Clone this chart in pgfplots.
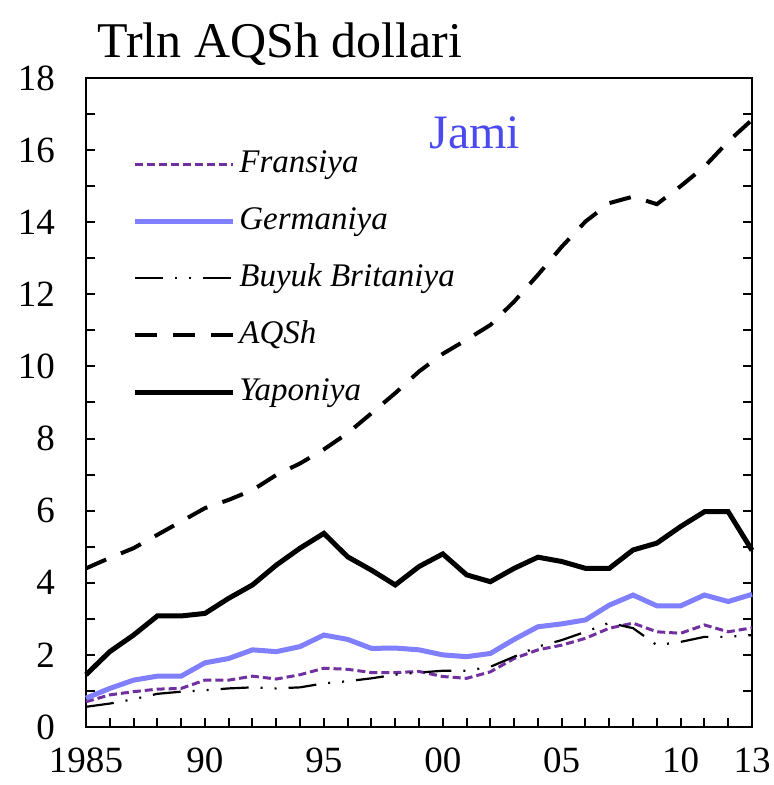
\documentclass[border=0pt]{standalone}
\usepackage{pgfplots}
\pgfplotsset{compat=1.18}
\usepackage{fontspec}
\setmainfont{Liberation Serif}
\definecolor{frc}{HTML}{7030A0}
\definecolor{gerc}{HTML}{8080FF}
\definecolor{jamic}{HTML}{4A4AF0}
\begin{document}
\begin{tikzpicture}
\begin{axis}[
  at={(0,0)}, anchor=south west,
  scale only axis, width=333pt, height=324.5pt,
  xmin=1985, xmax=2013, ymin=0, ymax=18,
  clip=false,
  axis line style={line width=1.2pt},
  xtick={1985,1990,1995,2000,2005,2010,2013},
  xticklabels={1985,90,95,00,05,10,13},
  minor xtick={1985,...,2013},
  ytick={0,2,...,18},
  minor ytick={1,3,...,17},
  xtick pos=bottom, ytick pos=both,
  tick align=inside,
  major tick length=4.5pt, minor tick length=4.5pt,
  tick style={line width=1pt, black},
  /pgf/number format/assume math mode=true,
  /pgf/number format/1000 sep={},
  ticklabel style={font=\fontsize{18.5}{22}\selectfont},
  yticklabel style={xshift=-12pt},
  xticklabel style={yshift=-7pt},
  legend cell align=left,
  legend image code/.code={\draw[#1] (0pt,0pt) -- (49pt,0pt);},
  legend style={draw=none, fill=none, at={(0.06,0.905)}, anchor=north west,
    font=\fontsize{16.5}{20}\selectfont\itshape, row sep=8.5pt,
    nodes={inner sep=2pt, text height=12pt, text depth=4pt}},
]
\addplot[frc, line width=1.5pt, dash pattern=on 4pt off 2pt] coordinates {
(1985,0.70)(1986,0.89)(1987,0.98)(1988,1.05)(1989,1.07)(1990,1.30)(1991,1.30)(1992,1.41)(1993,1.33)(1994,1.45)
(1995,1.63)(1996,1.60)(1997,1.51)(1998,1.51)(1999,1.54)(2000,1.40)(2001,1.35)(2002,1.53)(2003,1.90)(2004,2.14)
(2005,2.27)(2006,2.46)(2007,2.74)(2008,2.88)(2009,2.64)(2010,2.60)(2011,2.83)(2012,2.64)(2013,2.75)};
\addlegendentry{Fransiya}
\addplot[gerc, line width=2.5pt] coordinates {
(1985,0.80)(1986,1.07)(1987,1.30)(1988,1.41)(1989,1.41)(1990,1.78)(1991,1.90)(1992,2.14)(1993,2.09)(1994,2.23)
(1995,2.55)(1996,2.43)(1997,2.18)(1998,2.19)(1999,2.14)(2000,2.00)(2001,1.95)(2002,2.04)(2003,2.43)(2004,2.78)
(2005,2.86)(2006,2.97)(2007,3.38)(2008,3.66)(2009,3.36)(2010,3.36)(2011,3.66)(2012,3.48)(2013,3.68)};
\addlegendentry{Germaniya}
\addplot[black, line width=1.1pt, dash pattern=on 14pt off 6pt on 1pt off 6pt on 1pt off 6pt] coordinates {
(1985,0.56)(1986,0.65)(1987,0.77)(1988,0.92)(1989,0.98)(1990,1.02)(1991,1.07)(1992,1.10)(1993,1.07)(1994,1.10)
(1995,1.21)(1996,1.27)(1997,1.35)(1998,1.45)(1999,1.51)(2000,1.56)(2001,1.56)(2002,1.67)(2003,1.95)(2004,2.23)
(2005,2.41)(2006,2.64)(2007,2.89)(2008,2.74)(2009,2.27)(2010,2.36)(2011,2.50)(2012,2.50)(2013,2.55)};
\addlegendentry{Buyuk Britaniya}
\addplot[black, line width=2pt, dash pattern=on 11pt off 8pt] coordinates {
(1985,4.40)(1986,4.69)(1987,4.96)(1988,5.33)(1989,5.70)(1990,6.07)(1991,6.30)(1992,6.57)(1993,6.99)(1994,7.31)
(1995,7.70)(1996,8.15)(1997,8.70)(1998,9.26)(1999,9.86)(2000,10.35)(2001,10.74)(2002,11.15)(2003,11.80)(2004,12.54)
(2005,13.32)(2006,14.02)(2007,14.53)(2008,14.71)(2009,14.50)(2010,15.00)(2011,15.54)(2012,16.24)(2013,16.84)};
\addlegendentry{AQSh}
\addplot[black, line width=2.5pt] coordinates {
(1985,1.45)(1986,2.09)(1987,2.55)(1988,3.08)(1989,3.08)(1990,3.15)(1991,3.57)(1992,3.94)(1993,4.49)(1994,4.96)
(1995,5.37)(1996,4.72)(1997,4.35)(1998,3.94)(1999,4.45)(2000,4.80)(2001,4.22)(2002,4.03)(2003,4.40)(2004,4.71)
(2005,4.59)(2006,4.40)(2007,4.40)(2008,4.91)(2009,5.10)(2010,5.56)(2011,5.97)(2012,5.97)(2013,4.90)};
\addlegendentry{Yaponiya}
\node[anchor=base, text=jamic, font=\fontsize{24}{28}\selectfont] at (rel axis cs:0.584,0.892) {Jami};
\node[anchor=base west, inner sep=0pt, font=\fontsize{25}{30}\selectfont] at (rel axis cs:0,1) [xshift=5.5pt, yshift=10pt] {Trln AQSh dollari};
\end{axis}
\pgfresetboundingbox
\path (-43pt,-29pt) rectangle (343.5pt,363.5pt);
\end{tikzpicture}
\end{document}
